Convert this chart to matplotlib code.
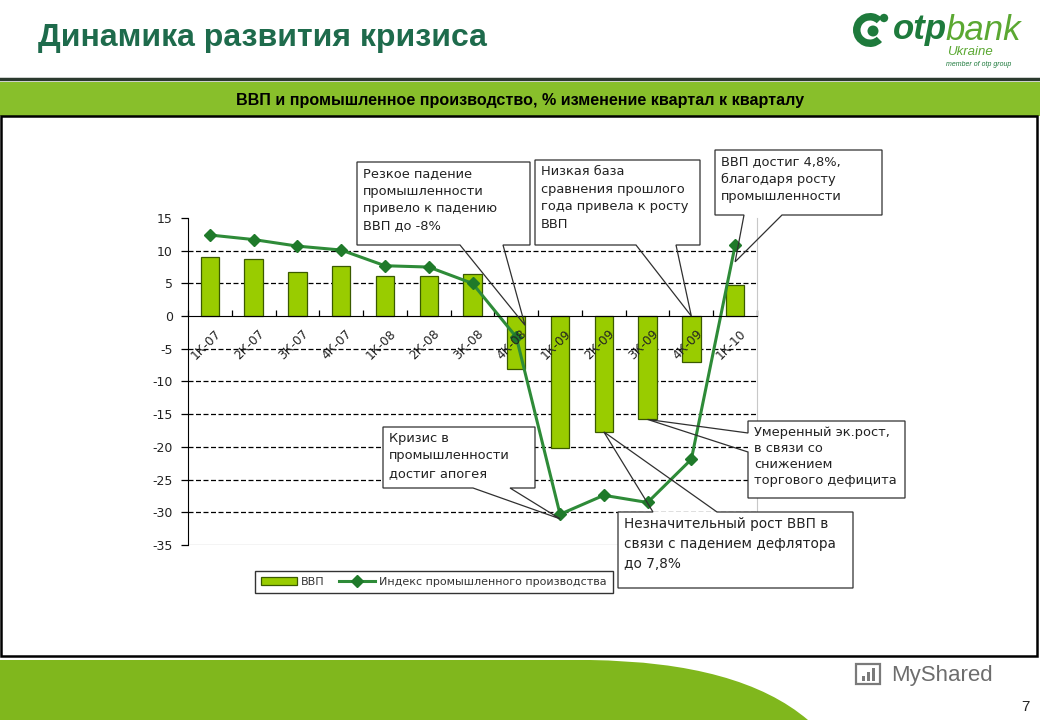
import matplotlib
matplotlib.use("Agg")
import matplotlib.pyplot as plt
import numpy as np
from matplotlib.patches import Rectangle, Polygon, PathPatch, Circle, Wedge
from matplotlib.path import Path
from matplotlib.lines import Line2D
import matplotlib.transforms as mtransforms

# ---------------- data ----------------
quarters = ['1К-07', '2К-07', '3К-07', '4К-07', '1К-08', '2К-08', '3К-08',
            '4К-08', '1К-09', '2К-09', '3К-09', '4К-09', '1К-10']
gdp = [9.0, 8.7, 6.7, 7.6, 6.1, 6.1, 6.4, -8.1, -20.2, -17.7, -15.8, -7.0, 4.8]
industry = [12.4, 11.7, 10.7, 10.1, 7.7, 7.5, 5.0, -3.2, -30.3, -27.4, -28.5, -21.9, 10.8]
y_ticks = [15, 10, 5, 0, -5, -10, -15, -20, -25, -30, -35]
series_names = ['ВВП', 'Индекс промышленного производства']

title = 'Динамика развития кризиса'
subtitle = 'ВВП и промышленное производство, % изменение квартал к кварталу'

W, H = 1040, 720
fig = plt.figure(figsize=(W / 100, H / 100), dpi=100)
fig.patch.set_facecolor('white')

def fx(x):
    return x / W

def fy(y):
    return 1 - y / H

TXT = ['DejaVu Sans']
PIX = fig.dpi_scale_trans  # inches; 1 inch = 100 px

def pin(x, y):
    return (x / 100, (H - y) / 100)

# ---------------- header ----------------
fig.text(fx(38), fy(38), title, fontsize=23, fontweight='bold',
         family=['Liberation Sans', 'DejaVu Sans'], color='#1E6B4C', va='center', ha='left')

fig.add_artist(Line2D([0, 1], [fy(79), fy(79)], transform=fig.transFigure,
                      color='#2b3a2e', lw=2.5))
fig.add_artist(Rectangle((0, fy(116)), 1, fy(82) - fy(116), transform=fig.transFigure,
                         facecolor='#88BF2B', edgecolor='none'))
fig.text(0.5, fy(100), subtitle, fontsize=11.6, fontweight='bold',
         family=['Liberation Sans Narrow', 'Liberation Sans', 'DejaVu Sans'],
         color='black', ha='center', va='center')

# chart frame
fig.add_artist(Rectangle((fx(1), fy(656)), fx(1036), fy(116) - fy(656), transform=fig.transFigure,
                         facecolor='none', edgecolor='black', lw=1.8))

# bottom green shape
verts = [(fx(0), fy(660)), (fx(590), fy(660)), (fx(740), fy(662)), (fx(808), fy(720)),
         (fx(0), fy(720)), (fx(0), fy(660))]
codes = [Path.MOVETO, Path.LINETO, Path.CURVE3, Path.CURVE3, Path.LINETO, Path.CLOSEPOLY]
fig.add_artist(PathPatch(Path(verts, codes), transform=fig.transFigure,
                         facecolor='#80B71D', edgecolor='none'))

# logo
fig.add_artist(Wedge(pin(870, 30), 0.17, 45, 315, width=0.075,
                     transform=PIX, facecolor='#1E7A3C', edgecolor='none'))
fig.add_artist(Circle(pin(873, 31), 0.055, transform=PIX,
                      facecolor='#1E7A3C', edgecolor='none'))
fig.add_artist(Circle(pin(884, 18), 0.042, transform=PIX,
                      facecolor='#1E7A3C', edgecolor='none'))
fig.text(fx(893), fy(30), 'otp', fontsize=25, fontweight='bold', style='italic',
         family=['Liberation Sans', 'DejaVu Sans'], color='#1E7A3C', va='center', ha='left')
fig.text(fx(946), fy(30), 'bank', fontsize=25, style='italic',
         family=['Liberation Sans', 'DejaVu Sans'], color='#5BA832', va='center', ha='left')
fig.text(fx(947), fy(52), 'Ukraine', fontsize=9.5, style='italic',
         family=['Liberation Sans', 'DejaVu Sans'], color='#5BA832', va='center', ha='left')
fig.text(fx(946), fy(65), 'member of otp group', fontsize=5, style='italic',
         family=['Liberation Sans', 'DejaVu Sans'], color='#1E7A3C', va='center', ha='left')

# watermark & page number
fig.text(fx(891), fy(675), 'MyShared', fontsize=16, family=['Liberation Sans Narrow', 'Liberation Sans'],
         color='#6d6d6d', va='center', ha='left')
fig.add_artist(Rectangle(pin(856, 684), 0.24, 0.2, transform=PIX,
                         facecolor='none', edgecolor='#7a7a7a', lw=1.6))
for i, hgt in enumerate([0.05, 0.09, 0.13]):
    fig.add_artist(Rectangle((8.62 + i * 0.05, (H - 681) / 100), 0.03, hgt, transform=PIX,
                             facecolor='#7a7a7a', edgecolor='none'))
fig.text(fx(1030), fy(707), '7', fontsize=11, family=['Liberation Sans', 'DejaVu Sans'],
         color='#222222', va='center', ha='right')

# ---------------- chart ----------------
ax = fig.add_axes([fx(188), fy(545), fx(757) - fx(188), fy(218) - fy(545)])
x = np.arange(len(quarters))
ax.set_xlim(-0.5, len(quarters) - 0.5)
ax.set_ylim(min(y_ticks), max(y_ticks))

for v in y_ticks:
    if v not in (0, max(y_ticks), min(y_ticks)):
        ax.axhline(v, color='black', lw=0.9, ls=(0, (4, 2)), zorder=1)
ax.axhline(min(y_ticks), color='#c8c8c8', lw=1.0, zorder=1)

bars = ax.bar(x, gdp, width=0.42, color='#99CC00', edgecolor='#3A5A00', lw=0.9, zorder=2,
              label=series_names[0])
line, = ax.plot(x, industry, color='#2E8B38', lw=2.2, marker='D', markersize=6.5,
                markerfacecolor='#1F7A2A', markeredgecolor='#1F7A2A', zorder=3,
                label=series_names[1])

ax.spines['top'].set_visible(False)
ax.spines['right'].set_color('#c8c8c8')
ax.spines['left'].set_color('black')
ax.spines['bottom'].set_position(('data', 0))
ax.spines['bottom'].set_color('black')
ax.spines['bottom'].set_zorder(4)
ax.set_facecolor('none')

ax.set_yticks(y_ticks)
ax.set_yticklabels([str(v) for v in y_ticks], family=TXT, fontsize=9, color='#222222')
ax.tick_params(axis='y', direction='out', length=5, width=0.9, pad=6)

ax.set_xticks(x)
ax.set_xticklabels([])
ax.tick_params(axis='x', which='major', length=0)
ax.set_xticks(np.arange(len(quarters) + 1) - 0.5, minor=True)
ax.tick_params(axis='x', which='minor', direction='in', length=4, width=0.9)

off = mtransforms.offset_copy(ax.transData, fig=fig, x=9, y=-16, units='dots')
for xi, q in zip(x, quarters):
    ax.text(xi, 0, q, transform=off, rotation=45, rotation_mode='anchor', ha='right',
            va='center', fontsize=8.8, family=TXT, color='#222222', zorder=5)

# legend
leg = fig.legend(handles=[bars, line], labels=series_names, loc='center',
                 bbox_to_anchor=(fx(434), fy(582)), ncol=2, frameon=True, fancybox=False,
                 handlelength=3.2, handletextpad=0.4, columnspacing=1.3,
                 borderpad=0.55, prop={'family': TXT, 'size': 8})
leg.get_frame().set_edgecolor('black')
leg.get_frame().set_linewidth(1.0)
for t in leg.get_texts():
    t.set_color('#333333')

# ---------------- callouts ----------------
def tip_px(idx, val):
    px, py = ax.transData.transform((idx, val))
    return px, H - py

def callout(box, side, b1, b2, tip, text, fs=9.4, ls=1.45):
    x0, y0, x1, y1 = box
    tx, ty = tip
    if side == 'bottom':
        pts = [(x0, y0), (x1, y0), (x1, y1), (b2, y1), (tx, ty), (b1, y1), (x0, y1)]
    elif side == 'left':
        pts = [(x0, y0), (x1, y0), (x1, y1), (x0, y1), (x0, b2), (tx, ty), (x0, b1)]
    else:  # top
        pts = [(x0, y0), (b1, y0), (tx, ty), (b2, y0), (x1, y0), (x1, y1), (x0, y1)]
    fig.add_artist(Rectangle((fx(x0), fy(y1)), fx(x1) - fx(x0), fy(y0) - fy(y1),
                             transform=fig.transFigure, facecolor='white',
                             edgecolor='none', zorder=6))
    poly = Polygon([(fx(a), fy(b)) for a, b in pts], closed=True, transform=fig.transFigure,
                   facecolor='none', edgecolor='#303030', lw=0.9, zorder=6.5)
    fig.add_artist(poly)
    fig.text(fx(x0 + 6), fy(y0 + 5), text, fontsize=fs, family=TXT, color='#222222',
             ha='left', va='top', linespacing=ls, zorder=7)

callout((357, 162, 530, 245), 'bottom', 460, 503, tip_px(7.2, -1.4),
        'Резкое падение\nпромышленности\nпривело к падению\nВВП до -8%')
callout((535, 160, 700, 245), 'bottom', 636, 676, tip_px(11, 0.0),
        'Низкая база\nсравнения прошлого\nгода привела к росту\nВВП')
callout((715, 150, 882, 215), 'bottom', 744, 782, tip_px(12, 8.3),
        'ВВП достиг 4,8%,\nблагодаря росту\nпромышленности')
callout((383, 427, 535, 488), 'bottom', 473, 510, tip_px(8, -31.0),
        'Кризис в\nпромышленности\nдостиг апогея')
callout((748, 421, 905, 498), 'left', 433, 452, tip_px(10, gdp[10]),
        'Умеренный эк.рост,\nв связи со\nснижением\nторгового дефицита', ls=1.3)
callout((618, 512, 853, 588), 'top', 653, 717, tip_px(9, gdp[9]),
        'Незначительный рост ВВП в\nсвязи с падением дефлятора\nдо 7,8%', fs=9.8, ls=1.55)

fig.savefig('out.png', dpi=100, facecolor='white')
